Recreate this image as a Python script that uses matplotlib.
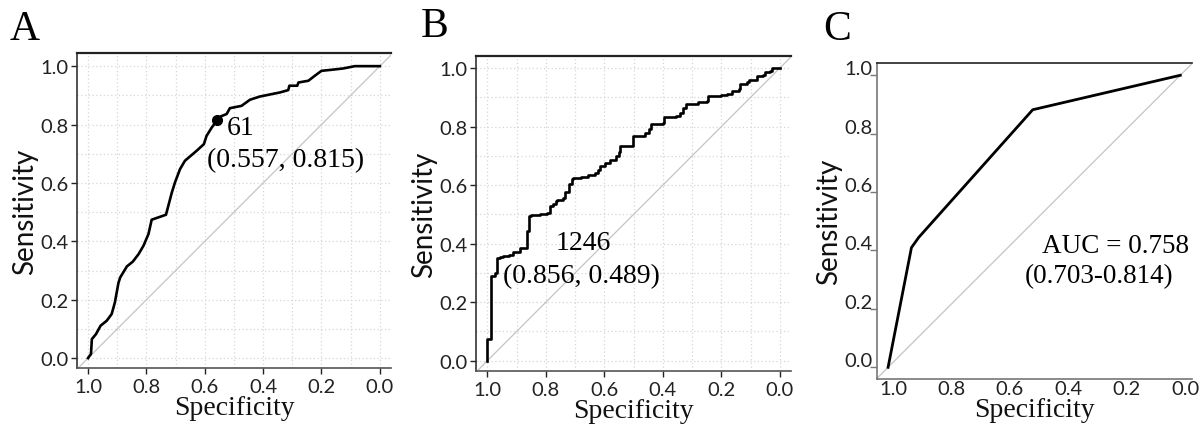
import matplotlib
matplotlib.use("Agg")
import matplotlib.pyplot as plt
import matplotlib.transforms as mtransforms
import numpy as np

# ---------------- data ----------------
spec_a = [1.0, 0.999, 0.99, 0.987, 0.973, 0.957, 0.936, 0.919, 0.908, 0.896, 0.89, 0.867,
          0.847, 0.827, 0.81, 0.793, 0.782, 0.733, 0.713, 0.702, 0.685, 0.668, 0.628,
          0.603, 0.594, 0.576, 0.557, 0.545, 0.525, 0.514, 0.474, 0.445, 0.411, 0.342,
          0.314, 0.31, 0.283, 0.279, 0.245, 0.223, 0.2, 0.171, 0.126, 0.086, 0.0]
sens_a = [0.0, 0.002, 0.014, 0.065, 0.082, 0.111, 0.128, 0.151, 0.191, 0.257, 0.276, 0.314,
          0.33, 0.356, 0.385, 0.425, 0.474, 0.491, 0.567, 0.602, 0.647, 0.676, 0.71,
          0.733, 0.761, 0.79, 0.815, 0.828, 0.836, 0.856, 0.864, 0.885, 0.896, 0.91,
          0.918, 0.933, 0.933, 0.944, 0.95, 0.967, 0.984, 0.987, 0.992, 1.0, 1.0]
cut_a = {"label": "61", "spec": 0.557, "sens": 0.815}

spec_b = [1.0, 1.0, 0.989, 0.989, 0.978, 0.975, 0.97, 0.968, 0.958, 0.945, 0.925, 0.911,
          0.89, 0.888, 0.866, 0.865, 0.856, 0.856, 0.85, 0.82, 0.797, 0.786, 0.786, 0.775,
          0.765, 0.763, 0.74, 0.735, 0.723, 0.72, 0.712, 0.707, 0.68, 0.656, 0.633, 0.621,
          0.615, 0.598, 0.581, 0.56, 0.55, 0.545, 0.505, 0.502, 0.484, 0.461, 0.447, 0.44,
          0.399, 0.395, 0.355, 0.342, 0.331, 0.32, 0.285, 0.279, 0.25, 0.245, 0.2, 0.182,
          0.165, 0.138, 0.136, 0.113, 0.104, 0.079, 0.057, 0.051, 0.034, 0.028, 0.0]
sens_b = [0.0, 0.076, 0.076, 0.29, 0.29, 0.30, 0.30, 0.35, 0.355, 0.359, 0.36, 0.37,
          0.377, 0.385, 0.385, 0.444, 0.444, 0.493, 0.497, 0.501, 0.505, 0.51, 0.53, 0.535,
          0.545, 0.55, 0.556, 0.575, 0.577, 0.605, 0.62, 0.625, 0.628, 0.634, 0.64, 0.652,
          0.665, 0.675, 0.687, 0.698, 0.712, 0.733, 0.735, 0.767, 0.769, 0.778, 0.792, 0.81,
          0.812, 0.831, 0.835, 0.846, 0.862, 0.876, 0.877, 0.885, 0.888, 0.903, 0.908, 0.911,
          0.922, 0.928, 0.946, 0.951, 0.96, 0.972, 0.976, 0.985, 0.991, 0.999, 1.0]
cut_b = {"label": "1246", "spec": 0.856, "sens": 0.489}

spec_c = [1.0, 0.92, 0.895, 0.505, 0.0]
sens_c = [0.0, 0.41, 0.445, 0.882, 1.0]
auc_c = "AUC = 0.758"
ci_c = "(0.703-0.814)"

panel_letters = ["A", "B", "C"]
ticks_ab = [0.0, 0.2, 0.4, 0.6, 0.8, 1.0]
grid_ab = [i / 10 for i in range(11)]

# ---------------- style ----------------
SANS = ["Lato", "DejaVu Sans"]
SERIF = ["Liberation Serif", "DejaVu Serif"]
plt.rcParams["font.family"] = SANS

fig = plt.figure(figsize=(12.01, 4.27), dpi=100)

ax_a = fig.add_axes([0.0641, 0.1358, 0.2614, 0.7377])
ax_b = fig.add_axes([0.3963, 0.1288, 0.2623, 0.7377])
ax_c = fig.add_axes([0.7302, 0.1101, 0.2623, 0.7400])


def style_common(ax, xlim, ylim):
    ax.set_xlim(*xlim)
    ax.set_ylim(*ylim)
    ax.spines["right"].set_visible(False)
    ax.spines["top"].set_color("#222222")
    ax.spines["top"].set_linewidth(1.6)
    ax.spines["left"].set_color("#333333")
    ax.spines["left"].set_linewidth(1.2)
    ax.spines["bottom"].set_color("#555555")
    ax.spines["bottom"].set_linewidth(1.2)
    ax.tick_params(axis="both", labelsize=14.5, colors="#222222", length=4,
                   width=1.0, direction="out", pad=2)
    ax.tick_params(axis="x", pad=3)
    ax.set_xlabel("Specificity", family=SERIF, fontsize=20, labelpad=0, color="#111111")
    ax.set_ylabel("Sensitivity", family=SANS, fontsize=20, labelpad=2, color="#111111")
    ax.axline((1, 0), (0, 1), color="#c4c4c4", lw=0.9, zorder=1)


for ax, xl, yl in [(ax_a, (1.038, -0.038), (-0.034, 1.045)),
                   (ax_b, (1.039, -0.038), (-0.035, 1.041))]:
    style_common(ax, xl, yl)
    ax.set_xticks(ticks_ab)
    ax.set_yticks(ticks_ab)
    ax.set_xticklabels([f"{t:.1f}" for t in ticks_ab])
    ax.set_yticklabels([f"{t:.1f}" for t in ticks_ab])
    for g in grid_ab:
        ax.axvline(g, color="#d6d6d6", lw=0.9, ls=(0, (1, 2)), zorder=0)
        ax.axhline(g, color="#d6d6d6", lw=0.9, ls=(0, (1, 2)), zorder=0)

# Panel A
ax_a.plot(spec_a, sens_a, color="black", lw=1.9, zorder=3)
ax_a.plot([cut_a["spec"]], [cut_a["sens"]], "o", color="black", ms=7, zorder=4)
ax_a.text(0.524, 0.767, cut_a["label"], family=SERIF, fontsize=20, va="baseline", ha="left")
ax_a.text(0.592, 0.658, f"({cut_a['spec']:.3f}, {cut_a['sens']:.3f})", family=SERIF,
          fontsize=20, va="baseline", ha="left")

# Panel B
ax_b.plot(spec_b, sens_b, color="black", lw=1.9, drawstyle="steps-post", zorder=3)
ax_b.text(0.768, 0.382, cut_b["label"], family=SERIF, fontsize=20, va="baseline", ha="left")
ax_b.text(0.945, 0.270, f"({cut_b['spec']:.3f}, {cut_b['sens']:.3f})", family=SERIF,
          fontsize=20, va="baseline", ha="left")

# Panel C
style_common(ax_c, (1.038, -0.04), (-0.04, 1.042))
ax_c.spines["top"].set_linewidth(1.2)
ax_c.spines["left"].set_color("#777777")
ax_c.spines["bottom"].set_color("#777777")
ax_c.set_xticks(ticks_ab)
ax_c.set_yticks(ticks_ab)
ax_c.set_xticklabels([f"{t:.1f}" for t in ticks_ab])
ax_c.set_yticklabels([f"{t:.1f}" for t in ticks_ab])
ax_c.tick_params(axis="x", length=0, pad=1)
ax_c.tick_params(axis="y", length=5, color="#777777", pad=-2)
off_y = mtransforms.ScaledTranslation(0, 8 / 100, fig.dpi_scale_trans)
off_x = mtransforms.ScaledTranslation(5 / 100, 0, fig.dpi_scale_trans)
for lbl in ax_c.get_yticklabels():
    lbl.set_transform(lbl.get_transform() + off_y)
for lbl in ax_c.get_xticklabels():
    lbl.set_transform(lbl.get_transform() + off_x)
ax_c.plot(spec_c, sens_c, color="black", lw=2.0, zorder=3)
ax_c.text(0.473, 0.395, auc_c, family=SERIF, fontsize=19.5, va="baseline", ha="left")
ax_c.text(0.531, 0.292, ci_c, family=SERIF, fontsize=19.5, va="baseline", ha="left")

# Panel letters
letter_pos = [(10 / 1201, (427 - 40) / 427), (421 / 1201, (427 - 37) / 427),
              (823 / 1201, (427 - 40) / 427)]
for letter, (lx, ly) in zip(panel_letters, letter_pos):
    fig.text(lx, ly, letter, family=SERIF, fontsize=30, va="baseline", ha="left")

fig.savefig("out.png", dpi=100)
